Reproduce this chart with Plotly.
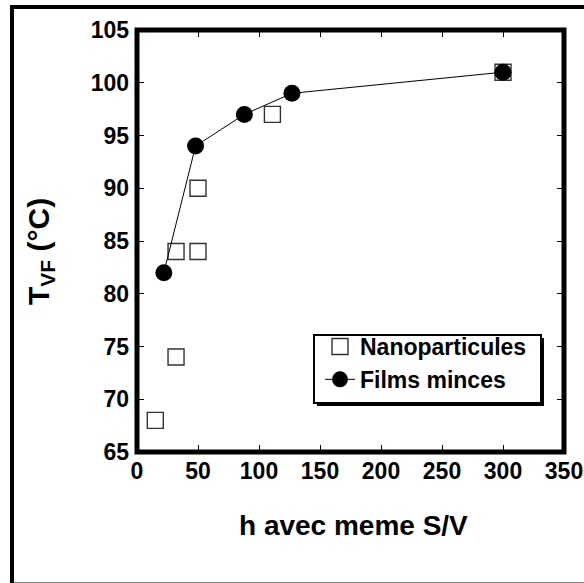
import plotly.graph_objects as go

# Nanoparticles: h (same S/V) vs T_VF
nano_h = [15, 32, 32, 50, 50, 111, 300]
nano_t = [68, 74, 84, 84, 90, 97, 101]

# Thin films
film_h = [22, 48, 88, 127, 300]
film_t = [82, 94, 97, 99, 101]

x_ticks = [0, 50, 100, 150, 200, 250, 300, 350]
y_ticks = [65, 70, 75, 80, 85, 90, 95, 100, 105]

W, H = 584, 583
L, R, T, B = 137, 20, 30, 131
PW, PH = W - L - R, H - T - B

FONT = "Liberation Sans, Arial, sans-serif"


def px_x(p):
    return (p - L) / PW


def px_y(p):
    return (H - B - p) / PH


fig = go.Figure()

fig.add_trace(go.Scatter(
    x=nano_h, y=nano_t, mode="markers", name="Nanoparticules",
    marker=dict(symbol="square-open", size=16, color="#333333",
                line=dict(width=1.4, color="#333333")),
))
fig.add_trace(go.Scatter(
    x=film_h, y=film_t, mode="lines+markers", name="Films minces",
    line=dict(color="black", width=1),
    marker=dict(symbol="circle", size=17, color="black"),
))

axis_common = dict(
    showgrid=False, zeroline=False, showline=False, automargin=False,
    ticks="inside", ticklen=7, tickwidth=1, tickcolor="black",
    mirror="ticks",
    tickfont=dict(family=FONT, size=23, color="black", weight="bold"),
)

fig.update_xaxes(range=[0, 350], tickvals=x_ticks,
                 ticktext=[f"<b>{v}</b>" for v in x_ticks],
                 ticklabelstandoff=3, **axis_common)
fig.update_yaxes(range=[65, 105], tickvals=y_ticks,
                 ticktext=[f"<b>{v}</b>" for v in y_ticks],
                 ticklabelstandoff=7, **axis_common)

shapes = [
    # plot frame
    dict(type="rect", xref="paper", yref="paper", x0=0, x1=1, y0=0, y1=1,
         line=dict(color="black", width=5), layer="above"),
    # outer border
    dict(type="rect", xref="paper", yref="paper",
         x0=px_x(12), x1=px_x(600), y0=px_y(584.5), y1=px_y(7),
         line=dict(color="black", width=4), layer="above"),
    # legend drop shadow
    dict(type="rect", xref="paper", yref="paper",
         x0=px_x(317), x1=px_x(544), y0=px_y(406), y1=px_y(338),
         line=dict(width=0), fillcolor="black", layer="above"),
    # legend box
    dict(type="rect", xref="paper", yref="paper",
         x0=px_x(314), x1=px_x(541), y0=px_y(403), y1=px_y(335),
         line=dict(color="black", width=2), fillcolor="white", layer="above"),
]

annotations = [
    dict(text="<b>h avec meme S/V</b>", xref="paper", yref="paper",
         x=px_x(353.5), y=px_y(525), xanchor="center", yanchor="middle",
         showarrow=False,
         font=dict(family=FONT, size=28, color="black")),
    dict(text="<b>T<sub>VF</sub> (°C)</b>", xref="paper", yref="paper",
         x=px_x(40), y=px_y(252), xanchor="center", yanchor="middle",
         textangle=-90, showarrow=False,
         font=dict(family=FONT, size=30, color="black")),
]

fig.update_layout(
    width=W, height=H,
    margin=dict(l=L, r=R, t=T, b=B),
    paper_bgcolor="white", plot_bgcolor="white",
    showlegend=True,
    legend=dict(
        x=px_x(320), y=px_y(325), xanchor="left", yanchor="top",
        bgcolor="rgba(0,0,0,0)", borderwidth=0,
        font=dict(family=FONT, size=23, color="black", weight="bold"),
        tracegroupgap=0,
    ),
    shapes=shapes,
    annotations=annotations,
)

fig.write_html("out.html")
